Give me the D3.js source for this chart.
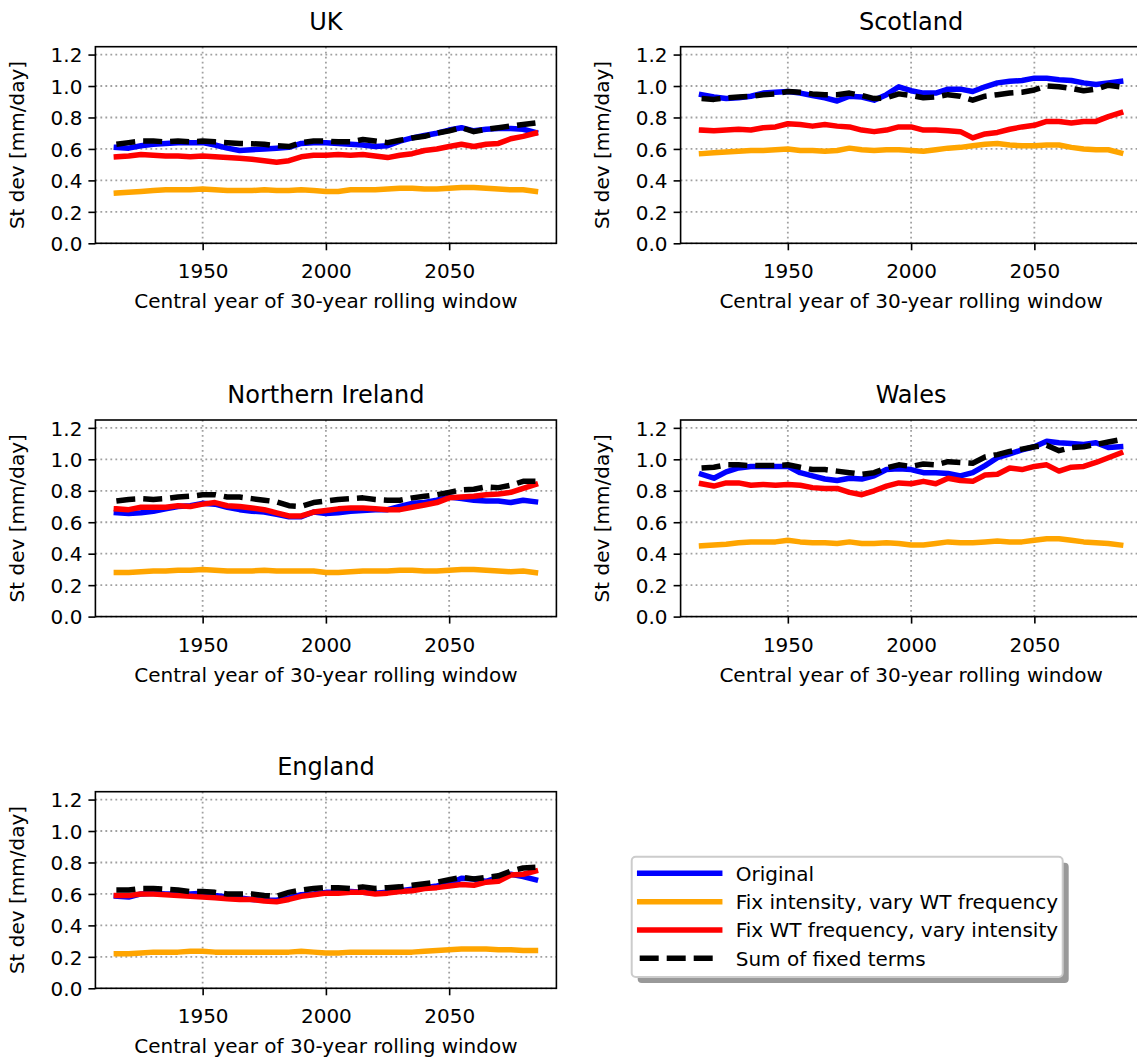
<!DOCTYPE html>
<html>
<head>
<meta charset="utf-8">
<script src="https://cdn.jsdelivr.net/npm/d3@7"></script>
<style>
  html, body { margin: 0; padding: 0; background: #ffffff; }
  svg { display: block; font-family: "DejaVu Sans", sans-serif; }
</style>
</head>
<body>
<svg id="chart" width="1137" height="1059"></svg>
<script>
// ---------------- DATA ----------------
const years = [1915,1920,1925,1930,1935,1940,1945,1950,1955,1960,1965,1970,1975,1980,1985,1990,1995,2000,2005,2010,2015,2020,2025,2030,2035,2040,2045,2050,2055,2060,2065,2070,2075,2080,2085];

const regionNames = ["UK", "Scotland", "Northern Ireland", "Wales", "England"];
const seriesLabels = ["Original", "Fix intensity, vary WT frequency", "Fix WT frequency, vary intensity", "Sum of fixed terms"];
const yTicks = [0.0, 0.2, 0.4, 0.6, 0.8, 1.0, 1.2];
const xTicks = [1950, 2000, 2050];

const ukOriginal = [0.61,0.605,0.62,0.63,0.635,0.64,0.64,0.64,0.625,0.605,0.59,0.595,0.60,0.605,0.61,0.635,0.64,0.64,0.635,0.63,0.625,0.615,0.62,0.65,0.67,0.685,0.70,0.72,0.735,0.715,0.725,0.73,0.73,0.725,0.705];
const ukFixIntensity = [0.32,0.325,0.33,0.335,0.34,0.34,0.34,0.345,0.34,0.335,0.335,0.335,0.34,0.335,0.335,0.34,0.335,0.33,0.33,0.34,0.34,0.34,0.345,0.35,0.35,0.345,0.345,0.35,0.355,0.355,0.35,0.345,0.34,0.34,0.33];
const ukFixFreq = [0.55,0.555,0.565,0.56,0.555,0.555,0.55,0.555,0.55,0.545,0.54,0.535,0.525,0.515,0.525,0.55,0.56,0.56,0.565,0.56,0.565,0.555,0.545,0.56,0.57,0.59,0.60,0.615,0.63,0.615,0.63,0.635,0.665,0.68,0.70];
const ukSum = [0.63,0.64,0.65,0.65,0.645,0.65,0.645,0.65,0.645,0.64,0.635,0.633,0.63,0.62,0.615,0.64,0.65,0.65,0.645,0.645,0.66,0.65,0.64,0.655,0.67,0.68,0.70,0.715,0.735,0.71,0.725,0.735,0.745,0.755,0.765];

const scotOriginal = [0.945,0.93,0.92,0.925,0.935,0.955,0.96,0.965,0.955,0.94,0.925,0.905,0.935,0.93,0.91,0.945,0.995,0.97,0.955,0.955,0.98,0.98,0.965,0.995,1.02,1.03,1.035,1.05,1.05,1.04,1.035,1.02,1.01,1.02,1.03];
const scotFixIntensity = [0.57,0.575,0.58,0.585,0.59,0.59,0.595,0.60,0.59,0.59,0.585,0.59,0.605,0.595,0.59,0.595,0.595,0.59,0.585,0.595,0.605,0.61,0.62,0.63,0.635,0.625,0.62,0.62,0.625,0.625,0.61,0.60,0.595,0.595,0.575];
const scotFixFreq = [0.72,0.715,0.72,0.725,0.72,0.735,0.74,0.76,0.755,0.745,0.755,0.745,0.74,0.72,0.71,0.72,0.74,0.74,0.72,0.72,0.715,0.71,0.67,0.695,0.705,0.725,0.74,0.75,0.775,0.775,0.765,0.775,0.775,0.805,0.83];
const scotSum = [0.92,0.915,0.925,0.93,0.935,0.945,0.95,0.965,0.96,0.95,0.945,0.945,0.955,0.94,0.92,0.925,0.95,0.94,0.925,0.93,0.945,0.935,0.91,0.935,0.945,0.955,0.96,0.975,1.0,0.995,0.985,0.97,0.98,1.005,0.995];

const niOriginal = [0.66,0.655,0.66,0.67,0.685,0.70,0.705,0.72,0.715,0.695,0.68,0.67,0.665,0.65,0.635,0.635,0.665,0.655,0.66,0.67,0.675,0.68,0.68,0.70,0.72,0.725,0.74,0.76,0.75,0.74,0.735,0.735,0.725,0.74,0.73];
const niFixIntensity = [0.28,0.28,0.285,0.29,0.29,0.295,0.295,0.30,0.295,0.29,0.29,0.29,0.295,0.29,0.29,0.29,0.29,0.28,0.28,0.285,0.29,0.29,0.29,0.295,0.295,0.29,0.29,0.295,0.30,0.30,0.295,0.29,0.285,0.29,0.28];
const niFixFreq = [0.685,0.68,0.695,0.695,0.695,0.705,0.70,0.715,0.725,0.705,0.70,0.69,0.68,0.66,0.64,0.64,0.665,0.675,0.685,0.69,0.69,0.685,0.68,0.68,0.695,0.71,0.725,0.755,0.76,0.765,0.775,0.78,0.79,0.815,0.84];
const niSum = [0.735,0.745,0.75,0.745,0.75,0.76,0.765,0.775,0.775,0.76,0.76,0.75,0.74,0.73,0.705,0.70,0.725,0.735,0.745,0.75,0.755,0.745,0.74,0.74,0.755,0.765,0.775,0.79,0.805,0.81,0.825,0.82,0.835,0.86,0.86];

const walesOriginal = [0.905,0.88,0.92,0.945,0.955,0.955,0.955,0.955,0.915,0.895,0.875,0.865,0.88,0.875,0.895,0.935,0.94,0.935,0.915,0.915,0.91,0.895,0.915,0.96,1.01,1.035,1.06,1.08,1.115,1.105,1.10,1.095,1.105,1.075,1.08];
const walesFixIntensity = [0.45,0.455,0.46,0.47,0.475,0.475,0.475,0.485,0.475,0.47,0.47,0.465,0.475,0.465,0.465,0.47,0.465,0.455,0.455,0.465,0.475,0.47,0.47,0.475,0.48,0.475,0.475,0.485,0.495,0.495,0.485,0.475,0.47,0.465,0.455];
const walesFixFreq = [0.845,0.83,0.85,0.85,0.835,0.84,0.835,0.84,0.835,0.82,0.815,0.815,0.79,0.775,0.80,0.83,0.85,0.845,0.86,0.845,0.88,0.865,0.86,0.90,0.905,0.945,0.935,0.955,0.965,0.925,0.95,0.955,0.98,1.01,1.04];
const walesSum = [0.945,0.95,0.965,0.965,0.96,0.96,0.96,0.965,0.95,0.935,0.935,0.925,0.915,0.905,0.915,0.945,0.965,0.955,0.97,0.965,0.985,0.98,0.975,1.015,1.03,1.05,1.065,1.08,1.09,1.055,1.075,1.08,1.095,1.11,1.125];

const engOriginal = [0.585,0.58,0.60,0.605,0.60,0.60,0.60,0.605,0.59,0.58,0.575,0.565,0.56,0.56,0.575,0.595,0.60,0.61,0.61,0.615,0.61,0.605,0.61,0.62,0.63,0.64,0.65,0.665,0.70,0.695,0.68,0.705,0.725,0.71,0.69];
const engFixIntensity = [0.22,0.22,0.225,0.23,0.23,0.23,0.235,0.235,0.23,0.23,0.23,0.23,0.23,0.23,0.23,0.235,0.23,0.225,0.225,0.23,0.23,0.23,0.23,0.23,0.23,0.235,0.24,0.245,0.25,0.25,0.25,0.245,0.245,0.24,0.24];
const engFixFreq = [0.59,0.59,0.60,0.60,0.595,0.59,0.585,0.58,0.575,0.57,0.565,0.565,0.555,0.55,0.565,0.585,0.595,0.605,0.605,0.61,0.61,0.60,0.605,0.615,0.62,0.635,0.64,0.65,0.66,0.655,0.675,0.68,0.72,0.725,0.745];
const engSum = [0.625,0.625,0.635,0.635,0.63,0.625,0.615,0.615,0.61,0.60,0.60,0.60,0.59,0.585,0.61,0.625,0.635,0.64,0.64,0.635,0.645,0.635,0.64,0.645,0.655,0.665,0.675,0.69,0.705,0.695,0.705,0.715,0.745,0.765,0.77];

// ---------------- STYLE / LAYOUT ----------------
const seriesStyles = [
  { color: "#0000ff", dash: null },
  { color: "#ffa500", dash: null },
  { color: "#ff0000", dash: null },
  { color: "#000000", dash: "19,8" }
];
const regionSeries = [
  [ukOriginal, ukFixIntensity, ukFixFreq, ukSum],
  [scotOriginal, scotFixIntensity, scotFixFreq, scotSum],
  [niOriginal, niFixIntensity, niFixFreq, niSum],
  [walesOriginal, walesFixIntensity, walesFixFreq, walesSum],
  [engOriginal, engFixIntensity, engFixFreq, engSum]
];
const panelPos = [
  { left: 95.4, top: 46.7 },
  { left: 680.6, top: 46.7 },
  { left: 95.4, top: 420 },
  { left: 680.6, top: 420 },
  { left: 95.4, top: 791.7 }
];
const PW = 461, PH = 196.6;
const FONT = 20, TITLE_FONT = 24;
const LW = 5.5;

const svg = d3.select("#chart");

const x = d3.scaleLinear().domain([1906.5, 2093.5]).range([0, PW]);
const y = d3.scaleLinear().domain([0, 1.25]).range([PH, 0]);

regionNames.forEach((name, i) => {
  const p = panelPos[i];
  const g = svg.append("g").attr("transform", `translate(${p.left},${p.top})`);

  // grid
  const grid = g.append("g").attr("class", "grid");
  grid.selectAll("line.gx").data(xTicks).enter().append("line")
    .attr("x1", d => x(d)).attr("x2", d => x(d)).attr("y1", 0).attr("y2", PH)
    .attr("stroke", "#a0a0a0").attr("stroke-width", 1.8).attr("stroke-dasharray", "1.8,3.2");
  grid.selectAll("line.gy").data(yTicks).enter().append("line")
    .attr("x1", 0).attr("x2", PW).attr("y1", d => y(d)).attr("y2", d => y(d))
    .attr("stroke", "#a0a0a0").attr("stroke-width", 1.8).attr("stroke-dasharray", "1.8,3.2");

  // lines
  const line = d3.line().x((d, k) => x(years[k])).y(d => y(d));
  regionSeries[i].forEach((vals, s) => {
    const st = seriesStyles[s];
    const path = g.append("path").datum(vals)
      .attr("d", line)
      .attr("fill", "none")
      .attr("stroke", st.color)
      .attr("stroke-width", LW)
      .attr("stroke-linejoin", "round");
    if (st.dash) path.attr("stroke-dasharray", st.dash).attr("stroke-linecap", "butt");
    else path.attr("stroke-linecap", "square");
  });

  // axes
  const xAxis = d3.axisBottom(x).tickValues(xTicks).tickFormat(d3.format("d")).tickSize(7).tickPadding(6);
  const yAxis = d3.axisLeft(y).tickValues(yTicks).tickFormat(d3.format(".1f")).tickSize(7).tickPadding(6);

  const gx = g.append("g").attr("transform", `translate(0,${PH})`).call(xAxis);
  const gy = g.append("g").call(yAxis);
  [gx, gy].forEach(ax => {
    ax.select(".domain").remove();
    ax.selectAll(".tick line").attr("stroke", "#000").attr("stroke-width", 1.6);
    ax.selectAll(".tick text").attr("font-size", FONT).attr("fill", "#000")
      .attr("font-family", "DejaVu Sans");
  });
  gx.selectAll(".tick text").attr("dy", null).attr("y", 35);
  gy.selectAll(".tick text").attr("dy", "0.36em");

  // frame
  g.append("rect").attr("x", 0).attr("y", 0).attr("width", PW).attr("height", PH)
    .attr("fill", "none").attr("stroke", "#000").attr("stroke-width", 1.6);

  // title
  g.append("text").attr("x", PW / 2).attr("y", -16.7).attr("text-anchor", "middle")
    .attr("font-size", TITLE_FONT).attr("fill", "#000").text(name);

  // x label
  g.append("text").attr("x", PW / 2).attr("y", PH + 65).attr("text-anchor", "middle")
    .attr("font-size", FONT).attr("fill", "#000").text("Central year of 30-year rolling window");

  // y label
  g.append("text").attr("transform", `translate(-71.5,${PH / 2}) rotate(-90)`)
    .attr("text-anchor", "middle").attr("font-size", FONT).attr("fill", "#000")
    .text("St dev [mm/day]");
});

// ---------------- LEGEND ----------------
const L = { x: 631.7, y: 856.7, w: 431, h: 120.3 };
const lg = svg.append("g");
lg.append("rect").attr("x", L.x + 6).attr("y", L.y + 6).attr("width", L.w).attr("height", L.h)
  .attr("rx", 4).attr("fill", "#999999");
lg.append("rect").attr("x", L.x).attr("y", L.y).attr("width", L.w).attr("height", L.h)
  .attr("rx", 4).attr("fill", "#ffffff").attr("stroke", "#cccccc").attr("stroke-width", 2);

const rowY = d3.scaleLinear().domain([0, 3]).range([L.y + 16.6, L.y + 101.6]);
seriesLabels.forEach((lab, s) => {
  const st = seriesStyles[s];
  const yy = rowY(s);
  const ln = lg.append("line").attr("x1", L.x + 8).attr("x2", L.x + 88)
    .attr("y1", yy).attr("y2", yy)
    .attr("stroke", st.color).attr("stroke-width", LW);
  if (st.dash) ln.attr("stroke-dasharray", st.dash).attr("stroke-linecap", "butt");
  else ln.attr("stroke-linecap", "square");
  lg.append("text").attr("x", L.x + 104).attr("y", yy).attr("dy", "0.36em")
    .attr("font-size", FONT).attr("fill", "#000").text(lab);
});
</script>
</body>
</html>
